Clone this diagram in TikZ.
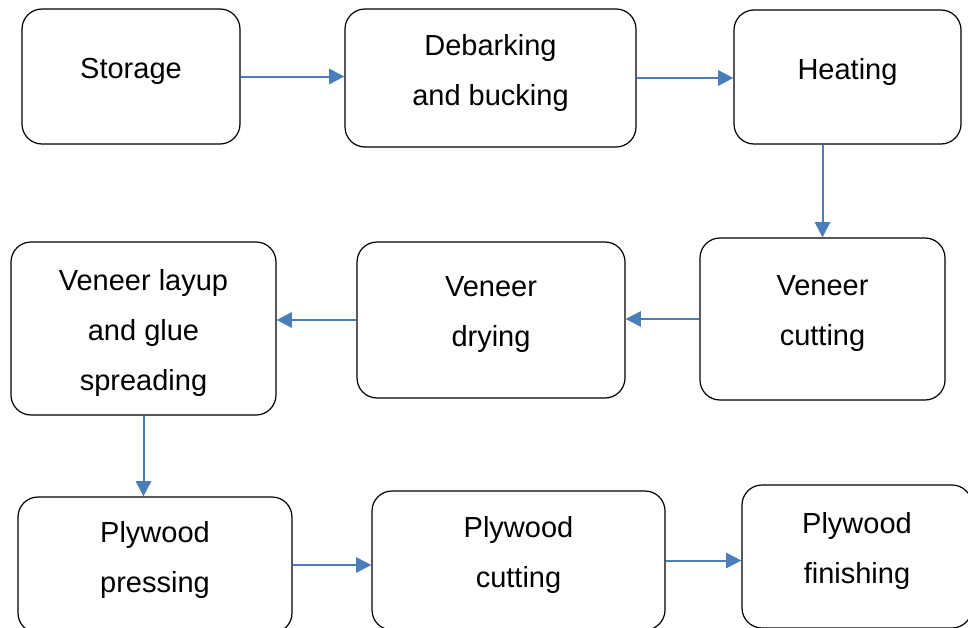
\documentclass[tikz,border=0pt]{standalone}
\usepackage{fontspec}
\setmainfont{Liberation Sans}
\usetikzlibrary{arrows.meta}
\definecolor{flowblue}{HTML}{4A7EBB}
\begin{document}
\begin{tikzpicture}[x=0.75pt, y=-0.75pt,
  box/.style={draw=black, line width=0.9pt, rounded corners=15pt, inner sep=0pt, fill=white},
  boxtext/.style={align=center, yshift=4pt, font=\fontsize{21.75}{37.5}\selectfont},
  flow/.style={draw=flowblue, line width=1.5pt, -{Triangle[length=11.5pt, width=11.5pt]}}]
  \useasboundingbox (0,0) rectangle (968,628);
  \clip (0,0) rectangle (968,628);

  % first row
  \node[box, minimum width=163.5pt, minimum height=101.25pt,
        label={[boxtext]center:Storage}] (storage) at (131,76.5) {};
  \node[box, minimum width=218.25pt, minimum height=103.5pt,
        label={[boxtext]center:{Debarking\\and bucking}}] (debark) at (490.5,78) {};
  \node[box, minimum width=170.25pt, minimum height=100.5pt,
        label={[boxtext]center:Heating}] (heat) at (847.5,77) {};

  % second row
  \node[box, minimum width=183.75pt, minimum height=121.5pt,
        label={[boxtext]center:{Veneer\\cutting}}] (vcut) at (822.5,319) {};
  \node[box, minimum width=201pt, minimum height=117pt,
        label={[boxtext]center:{Veneer\\drying}}] (vdry) at (491,320) {};
  \node[box, minimum width=198.75pt, minimum height=129.75pt,
        label={[boxtext, yshift=-7pt]center:{Veneer layup\\and glue\\spreading}}] (layup) at (143.5,328.5) {};

  % third row
  \node[box, minimum width=205.5pt, minimum height=102pt,
        label={[boxtext]center:{Plywood\\pressing}}] (press) at (155,565) {};
  \node[box, minimum width=219.75pt, minimum height=104.25pt,
        label={[boxtext]center:{Plywood\\cutting}}] (pcut) at (518.5,560.5) {};
  \node[box, minimum width=172.5pt, minimum height=107.25pt,
        label={[boxtext]center:{Plywood\\finishing}}] (fin) at (857,556.5) {};

  % connectors
  \draw[flow] (storage.east) -- (storage.east -| debark.west);
  \draw[flow] (debark.east) -- (debark.east -| heat.west);
  \draw[flow] (heat.south -| vcut.north) -- (vcut.north);
  \draw[flow] (vcut.west) -- (vcut.west -| vdry.east);
  \draw[flow] (vdry.west) -- (vdry.west -| layup.east);
  \draw[flow] (layup.south) -- (layup.south |- press.north);
  \draw[flow] (press.east) -- (press.east -| pcut.west);
  \draw[flow] (pcut.east) -- (pcut.east -| fin.west);
\end{tikzpicture}
\end{document}
